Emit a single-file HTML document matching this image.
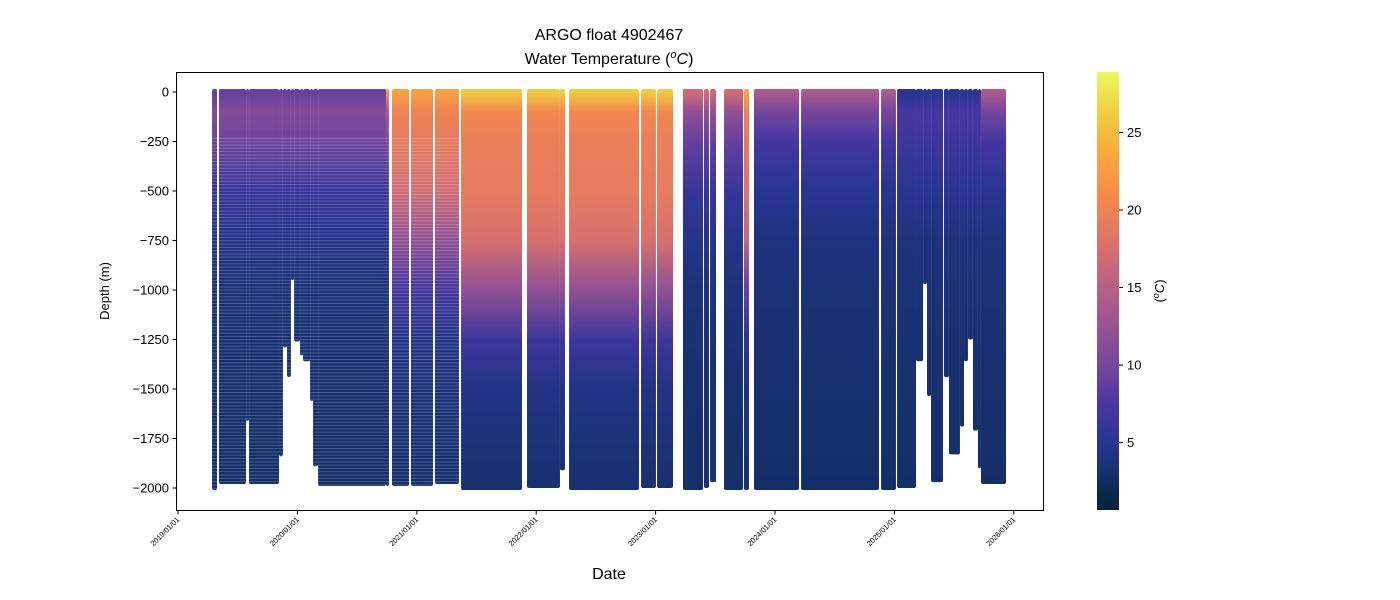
<!DOCTYPE html>
<html><head><meta charset="utf-8"><style>
html,body{margin:0;padding:0;background:#fff;}
svg{display:block;font-family:"Liberation Sans","DejaVu Sans",sans-serif;}
</style></head><body>
<svg id="chart" width="1400" height="600" viewBox="0 0 1400 600">
<defs id="defs"></defs>
<rect x="0" y="0" width="1400" height="600" fill="#fff"/>
<g id="plot"></g>
<g id="axes"></g>
<text x="609" y="40" text-anchor="middle" font-size="16" fill="#000">ARGO float 4902467</text>
<text x="609" y="64" text-anchor="middle" font-size="16" fill="#000">Water Temperature (<tspan font-style="italic" baseline-shift="super" font-size="11">o</tspan><tspan font-style="italic">C</tspan>)</text>
<text x="609" y="579" text-anchor="middle" font-size="16" fill="#000">Date</text>
<text x="0" y="0" transform="translate(109,291) rotate(-90)" text-anchor="middle" font-size="13" fill="#000">Depth (m)</text>
<g id="cbar"></g>
<text x="0" y="0" transform="translate(1164,291) rotate(-90)" text-anchor="middle" font-size="13" fill="#000">(<tspan font-style="italic" baseline-shift="super" font-size="9">o</tspan><tspan font-style="italic">C</tspan>)</text>
</svg>
<script>
// ---- data ----
const blockStart=[2019.285,2019.343,2019.570,2019.595,2019.846,2019.879,2019.913,2019.946,2019.972,2020.022,2020.047,2020.106,2020.131,2020.173,2020.742,2020.792,2020.951,2021.152,2021.370,2021.923,2022.199,2022.275,2022.878,2023.012,2023.229,2023.405,2023.456,2023.573,2023.740,2023.824,2024.218,2024.888,2025.022,2025.181,2025.240,2025.273,2025.307,2025.415,2025.457,2025.549,2025.583,2025.616,2025.658,2025.700,2025.725];
const blockEnd=[2019.327,2019.570,2019.595,2019.846,2019.879,2019.913,2019.946,2019.972,2020.022,2020.047,2020.106,2020.131,2020.173,2020.742,2020.767,2020.935,2021.136,2021.353,2021.881,2022.199,2022.241,2022.861,2023.003,2023.146,2023.397,2023.447,2023.506,2023.732,2023.782,2024.201,2024.871,2025.013,2025.181,2025.240,2025.273,2025.307,2025.407,2025.457,2025.549,2025.583,2025.616,2025.658,2025.700,2025.725,2025.935];
const blockDepth=[2000,1970,1650,1970,1830,1280,1430,940,1250,1320,1350,1550,1880,1980,1980,1980,1980,1970,2000,1990,1900,2000,1990,1990,2000,1990,1960,2000,2000,2000,2000,2000,1990,1350,960,1525,1960,1430,1820,1680,1350,1240,1700,1890,1970];
const blockType=["cold","cold","cold","cold","cold","cold","cold","cold","cold","cold","cold","cold","cold","cold","trans","warmA","warmA","warmA","warmB","warmB","warmB","warmB","warmB","warmB","mid","mid","mid","mid","warmC","cool","cool","cool","dark","dark","dark","dark","dark","dark","dark","dark","dark","dark","dark","dark","cool"];
const profDepths=[0,100,250,500,750,1000,1250,1500,2000];
const tempCold=[9,11,9.5,6,4.5,3.6,3.3,3.1,2.8];
const tempTrans=[22,14,11,7.5,5,3.8,3.4,3.1,2.8];
const tempWarmA=[23,20,19,17,12,7,4.6,3.7,3];
const tempWarmB=[26,20.5,19.5,19,17.5,12,6.5,4.3,3.2];
const tempMid=[17,12,9,6,4.6,3.8,3.4,3.1,2.9];
const tempWarmC=[23,20,19,18,16,9,5,4,3.2];
const tempCool=[14,10,7,5,4,3.6,3.3,3.1,2.8];
const tempDark=[5,7,6.5,5,4,3.6,3.3,3.1,2.8];
const yTicks=[0,-250,-500,-750,-1000,-1250,-1500,-1750,-2000];
const xTickYears=[2019,2020,2021,2022,2023,2024,2025,2026];
const xTickLabels=["2019/01/01","2020/01/01","2021/01/01","2022/01/01","2023/01/01","2024/01/01","2025/01/01","2026/01/01"];
const cbTicks=[5,10,15,20,25];
const dottedEnd=2021.378;

const typeTemps={cold:tempCold,trans:tempTrans,warmA:tempWarmA,warmB:tempWarmB,mid:tempMid,warmC:tempWarmC,cool:tempCool,dark:tempDark};
// ---- scales ----
const X0=178, XPY=119.4;
function xs(yr){return X0+(yr-2019)*XPY;}
function ys(d){return 92+(-d)*0.198;}
const TMIN=0.65,TMAX=28.9;
const cmapStops=[[0,"#042333"],[0.08,"#15306b"],[0.16,"#2a3593"],[0.24,"#4a36a3"],[0.32,"#71459c"],[0.42,"#985392"],[0.52,"#bd6183"],[0.62,"#df7467"],[0.72,"#f68b4a"],[0.82,"#faaa3c"],[0.91,"#f1d041"],[1,"#e8fa5b"]];
function hx(h){return [parseInt(h.substr(1,2),16),parseInt(h.substr(3,2),16),parseInt(h.substr(5,2),16)];}
function cmap(t){
  let v=Math.max(0,Math.min(1,(t-TMIN)/(TMAX-TMIN)));
  for(let i=1;i<cmapStops.length;i++){
    if(v<=cmapStops[i][0]){
      const a=cmapStops[i-1],b=cmapStops[i];const f=(v-a[0])/(b[0]-a[0]);
      const ca=hx(a[1]),cb=hx(b[1]);
      return "rgb("+ca.map((c,k)=>Math.round(c+(cb[k]-c)*f)).join(",")+")";
    }
  }
  return cmapStops[cmapStops.length-1][1];
}
const NS="http://www.w3.org/2000/svg";
const defs=document.getElementById("defs");
const plot=document.getElementById("plot");
const axes=document.getElementById("axes");
function mk(tag,attrs,parent){const e=document.createElementNS(NS,tag);for(const k in attrs)e.setAttribute(k,attrs[k]);parent.appendChild(e);return e;}
for(const tp in typeTemps){
  const g=mk("linearGradient",{id:"g-"+tp,gradientUnits:"userSpaceOnUse",x1:0,x2:0,y1:ys(0),y2:ys(-2000)},defs);
  const temps=typeTemps[tp];
  profDepths.forEach((d,i)=>{mk("stop",{offset:(d/2000).toFixed(4),"stop-color":cmap(temps[i])},g);});
}
const pat=mk("pattern",{id:"dots",patternUnits:"userSpaceOnUse",width:4,height:3.3,x:0,y:ys(-220)},defs);
mk("rect",{x:0,y:2.5,width:4,height:0.8,fill:"#fff","fill-opacity":0.25},pat);
for(let i=0;i<blockStart.length;i++){
  const x1=xs(blockStart[i]),x2=xs(blockEnd[i]);
  const r=document.createElementNS(NS,"rect");
  r.setAttribute("x",x1.toFixed(2));
  r.setAttribute("y",(ys(0)-3).toFixed(2));
  r.setAttribute("width",Math.max(1,x2-x1).toFixed(2));
  r.setAttribute("height",(ys(-blockDepth[i])-ys(0)+5).toFixed(2));
  r.setAttribute("fill","url(#g-"+blockType[i]+")");
  r.setAttribute("rx","2");
  
  
  plot.appendChild(r);
}
{
  const r=document.createElementNS(NS,"rect");
  r.setAttribute("x",xs(blockStart[0]));
  r.setAttribute("y",ys(-220));
  r.setAttribute("width",xs(dottedEnd)-xs(blockStart[0]));
  r.setAttribute("height",ys(-2000)-ys(-220)+3);
  r.setAttribute("fill","url(#dots)");
  
  
  plot.appendChild(r);
}
mk("rect",{x:176.5,y:72.5,width:867,height:438,fill:"none",stroke:"#000","stroke-width":1},axes);
yTicks.forEach(v=>{
  const y=ys(v);
  mk("line",{x1:172.5,x2:176.5,y1:y,y2:y,stroke:"#000","stroke-width":1},axes);
  const t=document.createElementNS(NS,"text");
  t.setAttribute("x",169);t.setAttribute("y",y+4.5);t.setAttribute("text-anchor","end");t.setAttribute("font-size","13");
  t.textContent=v<0?"\u2212"+(-v):String(v);
  
  
  axes.appendChild(t);
});
xTickYears.forEach((yr,i)=>{
  const x=xs(yr);
  mk("line",{x1:x,x2:x,y1:510.5,y2:514.5,stroke:"#000","stroke-width":1},axes);
  const t=document.createElementNS(NS,"text");
  t.setAttribute("x",0);t.setAttribute("y",0);t.setAttribute("text-anchor","end");t.setAttribute("font-size","7.5");
  t.setAttribute("transform","translate("+(x+2)+",520) rotate(-45)");
  t.textContent=xTickLabels[i];
  
  
  axes.appendChild(t);
});
const cb=document.getElementById("cbar");
const cg=mk("linearGradient",{id:"cbg",x1:0,x2:0,y1:1,y2:0},defs);
cmapStops.forEach(s=>mk("stop",{offset:s[0],"stop-color":s[1]},cg));
mk("rect",{x:1097,y:72,width:22,height:438,fill:"url(#cbg)"},cb);
function cby(v){return 510-(v-TMIN)/(TMAX-TMIN)*438;}
cbTicks.forEach(v=>{
  const y=cby(v);
  mk("line",{x1:1119,x2:1123,y1:y,y2:y,stroke:"#000","stroke-width":1},cb);
  const t=document.createElementNS(NS,"text");
  t.setAttribute("x",1127);t.setAttribute("y",y+4.5);t.setAttribute("font-size","13");
  t.textContent=String(v);
  
  
  cb.appendChild(t);
});
</script>
</body></html>
